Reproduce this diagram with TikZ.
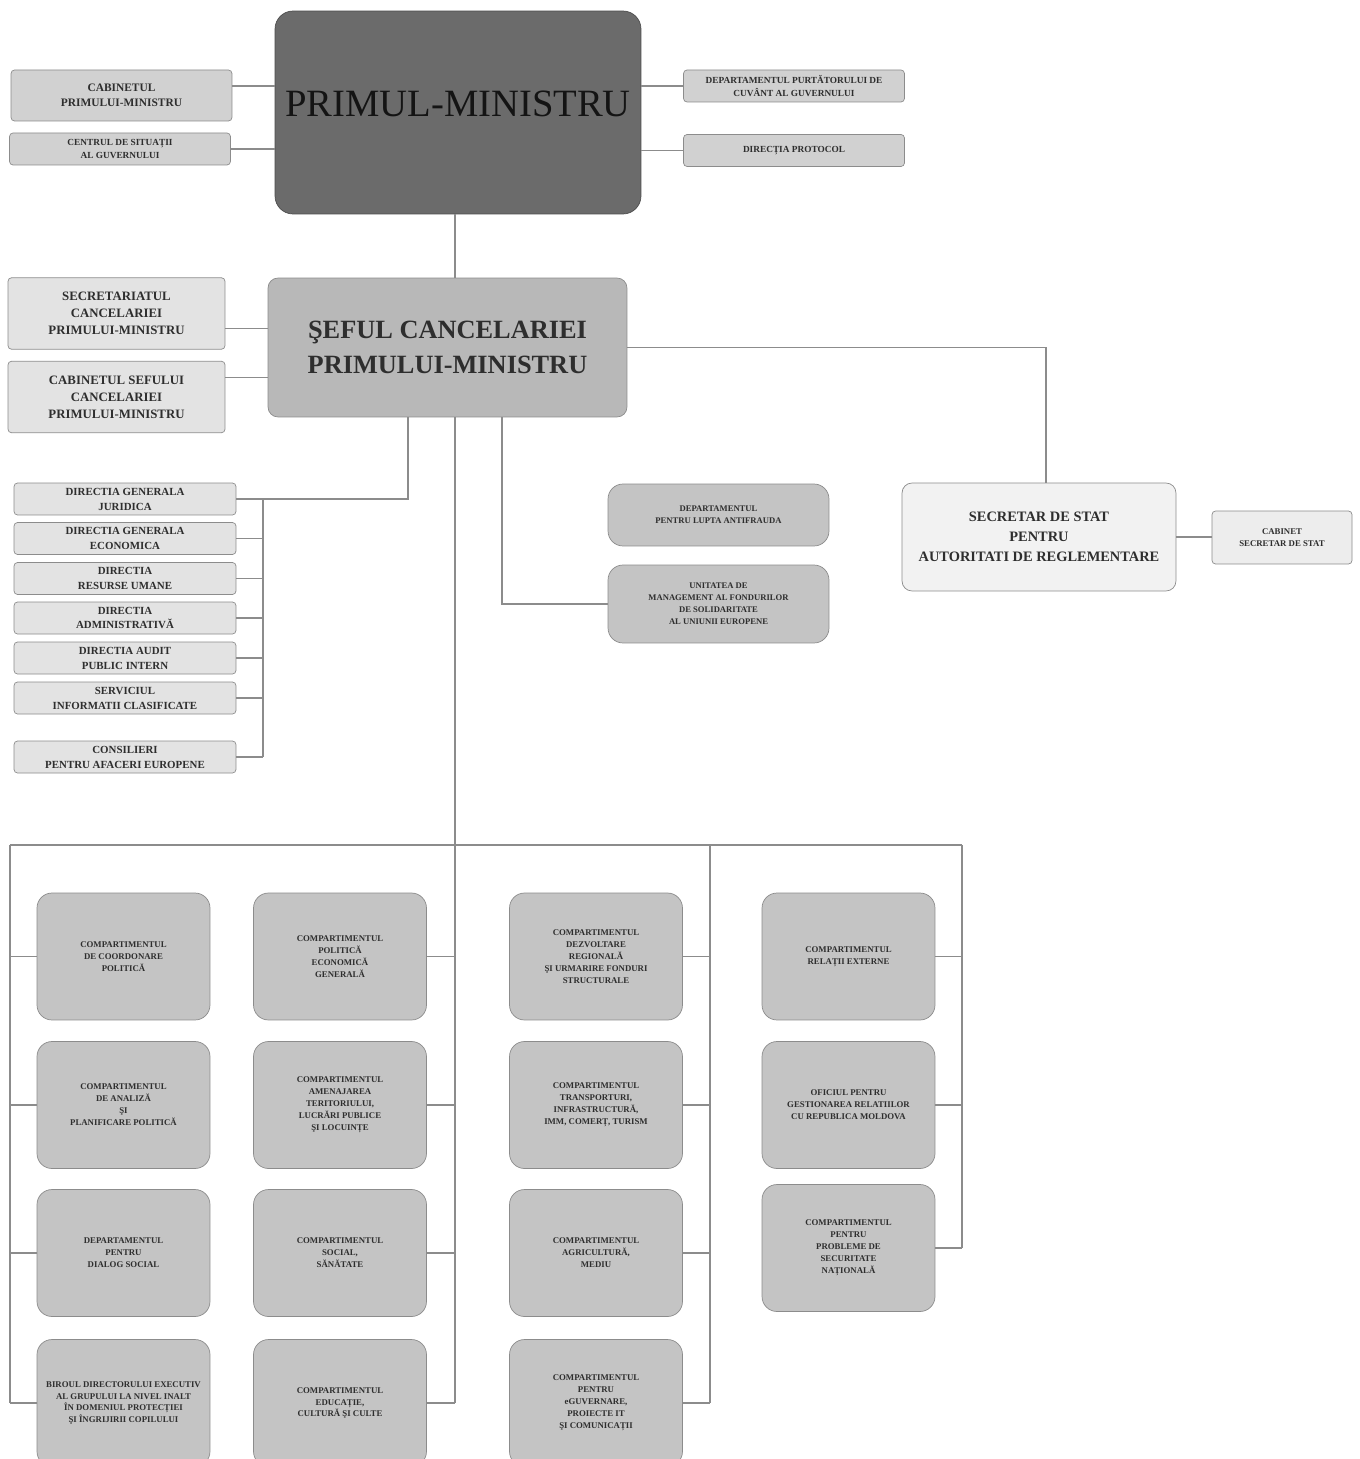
\documentclass[tikz,border=0pt]{standalone}
\usepackage{fontspec}
\setmainfont{Liberation Serif}

\begin{document}
\begin{tikzpicture}[x=0.02cm,y=-0.02cm]
\tikzset{caseta/.style={draw=black!45, rounded corners=2pt, align=center, inner sep=0pt, text=black!82},
  mica/.style={caseta, fill=black!18, minimum width=4.42cm, minimum height=0.64cm, font=\fontsize{5.3}{7.2}\selectfont\bfseries},
  directie/.style={caseta, fill=black!11, minimum width=4.44cm, minimum height=0.64cm, font=\fontsize{6.2}{8.5}\selectfont\bfseries},
  secretariat/.style={caseta, fill=black!11, minimum width=4.34cm, minimum height=1.43cm, font=\fontsize{7.3}{9.6}\selectfont\bfseries},
  compart/.style={caseta, fill=black!23, rounded corners=0.3cm, minimum width=3.46cm, minimum height=2.54cm, font=\fontsize{5}{6.8}\selectfont\bfseries},
  legatura/.style={draw=black!45, line width=0.7pt}}
\clip (0,0) rectangle (1359,1459);
\fill[white] (0,0) rectangle (1359,1459);

% primul-ministru
\node[caseta, fill=black!58, draw=black!70, rounded corners=0.36cm, minimum width=7.32cm, minimum height=4.06cm, text depth=0.36cm, font=\fontsize{22}{26}\selectfont, text=black!92] (pm) at (458,112.5) {PRIMUL-MINISTRU};
\node[mica, minimum height=1.02cm, font=\fontsize{6.5}{8.5}\selectfont\bfseries] (cabpm) at (121.5,95.5) {CABINETUL\\PRIMULUI-MINISTRU};
\node[mica] (centru) at (120,149) {CENTRUL DE SITUAȚII\\AL GUVERNULUI};
\node[mica] (purt) at (794,86) {DEPARTAMENTUL PURTĂTORULUI DE\\CUVÂNT AL GUVERNULUI};
\node[mica] (prot) at (794,150.5) {DIRECȚIA PROTOCOL};

% seful cancelariei
\node[caseta, fill=black!28, rounded corners=0.2cm, minimum width=7.18cm, minimum height=2.78cm, font=\fontsize{15}{19.8}\selectfont\bfseries] (sef) at (447.5,347.5) {ŞEFUL CANCELARIEI\\PRIMULUI-MINISTRU};
\node[secretariat] (secr) at (116.5,313.5) {SECRETARIATUL\\CANCELARIEI\\PRIMULUI-MINISTRU};
\node[secretariat] (cabsef) at (116.5,397) {CABINETUL SEFULUI\\CANCELARIEI\\PRIMULUI-MINISTRU};

% secretar de stat
\node[caseta, fill=black!5, rounded corners=0.2cm, minimum width=5.48cm, minimum height=2.16cm, font=\fontsize{8.2}{11.3}\selectfont\bfseries] (sds) at (1039,537) {SECRETAR DE STAT\\PENTRU\\AUTORITATI DE REGLEMENTARE};
\node[caseta, fill=black!7, minimum width=2.8cm, minimum height=1.06cm, font=\fontsize{5}{7}\selectfont\bfseries] (cabsds) at (1282,537.5) {CABINET\\SECRETAR DE STAT};

% antifrauda
\node[caseta, fill=black!23, rounded corners=0.3cm, minimum width=4.42cm, minimum height=1.24cm, font=\fontsize{4.9}{6.8}\selectfont\bfseries] (antif) at (718.5,515) {DEPARTAMENTUL\\PENTRU LUPTA ANTIFRAUDA};
\node[caseta, fill=black!23, rounded corners=0.3cm, minimum width=4.42cm, minimum height=1.56cm, font=\fontsize{4.9}{6.8}\selectfont\bfseries] (unit) at (718.5,604) {UNITATEA DE\\MANAGEMENT AL FONDURILOR\\DE SOLIDARITATE\\AL UNIUNII EUROPENE};

% directii
\node[directie] (djur) at (125,499) {DIRECTIA GENERALA\\JURIDICA};
\node[directie] (decon) at (125,538.5) {DIRECTIA GENERALA\\ECONOMICA};
\node[directie] (drum) at (125,578.5) {DIRECTIA\\RESURSE UMANE};
\node[directie] (dadm) at (125,618) {DIRECTIA\\ADMINISTRATIVĂ};
\node[directie] (daud) at (125,658) {DIRECTIA AUDIT\\PUBLIC INTERN};
\node[directie] (sinf) at (125,698) {SERVICIUL\\INFORMATII CLASIFICATE};
\node[directie] (cons) at (125,757) {CONSILIERI\\PENTRU AFACERI EUROPENE};

% compartimente
\node[compart] (a1) at (123.5,956.5) {COMPARTIMENTUL\\DE COORDONARE\\POLITICĂ};
\node[compart] (a2) at (123.5,1105) {COMPARTIMENTUL\\DE ANALIZĂ\\ŞI\\PLANIFICARE POLITICĂ};
\node[compart] (a3) at (123.5,1253) {DEPARTAMENTUL\\PENTRU\\DIALOG SOCIAL};
\node[compart] (a4) at (123.5,1403) {BIROUL DIRECTORULUI EXECUTIV\\AL GRUPULUI LA NIVEL INALT\\ÎN DOMENIUL PROTECȚIEI\\ŞI ÎNGRIJIRII COPILULUI};
\node[compart] (b1) at (340,956.5) {COMPARTIMENTUL\\POLITICĂ\\ECONOMICĂ\\GENERALĂ};
\node[compart] (b2) at (340,1105) {COMPARTIMENTUL\\AMENAJAREA\\TERITORIULUI,\\LUCRĂRI PUBLICE\\ŞI LOCUINȚE};
\node[compart] (b3) at (340,1253) {COMPARTIMENTUL\\SOCIAL,\\SĂNĂTATE};
\node[compart] (b4) at (340,1403) {COMPARTIMENTUL\\EDUCAȚIE,\\CULTURĂ ŞI CULTE};
\node[compart] (c1) at (596,956.5) {COMPARTIMENTUL\\DEZVOLTARE\\REGIONALĂ\\ŞI URMARIRE FONDURI\\STRUCTURALE};
\node[compart] (c2) at (596,1105) {COMPARTIMENTUL\\TRANSPORTURI,\\INFRASTRUCTURĂ,\\IMM, COMERȚ, TURISM};
\node[compart] (c3) at (596,1253) {COMPARTIMENTUL\\AGRICULTURĂ,\\MEDIU};
\node[compart] (c4) at (596,1403) {COMPARTIMENTUL\\PENTRU\\eGUVERNARE,\\PROIECTE IT\\ŞI COMUNICAȚII};
\node[compart] (d1) at (848.5,956.5) {COMPARTIMENTUL\\RELAȚII EXTERNE};
\node[compart] (d2) at (848.5,1105) {OFICIUL PENTRU\\GESTIONAREA RELATIILOR\\CU REPUBLICA MOLDOVA};
\node[compart] (d3) at (848.5,1248) {COMPARTIMENTUL\\PENTRU\\PROBLEME DE\\SECURITATE\\NAȚIONALĂ};

\coordinate (lista) at (263,499);
\coordinate (bus1) at (10,845);
\coordinate (bus2) at (455,845);
\coordinate (bus3) at (710,845);
\coordinate (bus4) at (962,845);

% legaturi sus
\draw[legatura] (cabpm.east |- purt.west) -- (pm.west |- purt.west);
\draw[legatura] (pm.east |- purt.west) -- (purt.west);
\draw[legatura] (centru.east) -- (centru.east -| pm.west);
\draw[legatura] (pm.east |- prot.west) -- (prot.west);
\draw[legatura] (pm.south -| bus2) -- (sef.north -| bus2);
\draw[legatura] (secr.-8) -- (secr.-8 -| sef.west);
\draw[legatura] (cabsef.10) -- (cabsef.10 -| sef.west);
\draw[legatura] (sef.east) -| ([xshift=0.14cm]sds.north);
\draw[legatura] (sds.east) -- (sds.east -| cabsds.west);
\draw[legatura] ([xshift=1.09cm]sef.south) |- (unit.west);

% directii
\draw[legatura] ([xshift=-0.79cm]sef.south) |- (djur.east);
\draw[legatura] (lista) -- (cons.east -| lista);
\foreach \n in {decon,drum,dadm,daud,sinf,cons}
  \draw[legatura] (\n.east) -- (\n.east -| lista);

% compartimente
\draw[legatura] (sef.south -| bus2) -- (bus2);
\draw[legatura] (bus1) -- (bus4);
\draw[legatura] (bus1) -- (bus1 |- a4.west);
\draw[legatura] (bus2) -- (bus2 |- b4.east);
\draw[legatura] (bus3) -- (bus3 |- c4.east);
\draw[legatura] (bus4) -- (bus4 |- d3.east);
\foreach \r in {1,...,4} {
  \draw[legatura] (a\r.west) -- (a\r.west -| bus1);
  \draw[legatura] (b\r.east) -- (b\r.east -| bus2);
  \draw[legatura] (c\r.east) -- (c\r.east -| bus3);
}
\foreach \r in {1,2,3}
  \draw[legatura] (d\r.east) -- (d\r.east -| bus4);
\end{tikzpicture}
\end{document}
